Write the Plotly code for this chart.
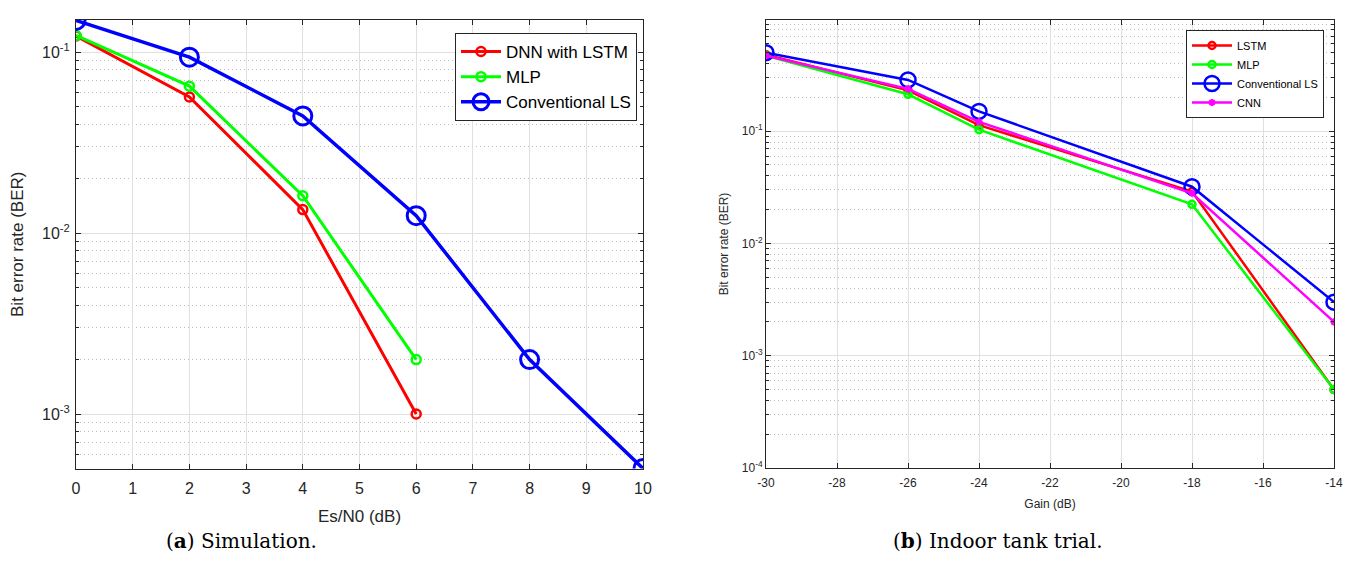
import plotly.graph_objects as go

# (a) Simulation: BER versus Es/N0
snr_db = [0, 2, 4, 6, 8, 10]
ber_dnn_lstm = [0.123, 0.0566, 0.0135, 0.001]
ber_mlp_sim = [0.124, 0.065, 0.0161, 0.002]
ber_ls_sim = [0.150, 0.094, 0.0445, 0.0125, 0.002, 0.0005]

# (b) Indoor tank trial: BER versus receiver gain
gain_db = [-30, -26, -24, -18, -14]
ber_lstm = [0.48, 0.231, 0.113, 0.029, 0.0005]
ber_mlp = [0.47, 0.213, 0.103, 0.0223, 0.0005]
ber_ls = [0.50, 0.286, 0.150, 0.032, 0.003]
ber_cnn = [0.47, 0.238, 0.121, 0.028, 0.002]

gain_ticks = list(range(-30, -13, 2))
snr_ticks = list(range(0, 11))

W, H = 1355, 575
FONT = "Liberation Sans, Arial, sans-serif"
AX = "#262626"
RED, GREEN, BLUE, MAGENTA = "#ff0000", "#00ff00", "#0000ff", "#ff00ff"


def px_x(p):
    return p / W


def px_y(p):
    return 1 - p / H


fig = go.Figure()

# ---- left panel ----
fig.add_trace(go.Scatter(
    x=snr_db[:len(ber_dnn_lstm)], y=ber_dnn_lstm, name="DNN with LSTM",
    mode="lines+markers", line=dict(color=RED, width=3),
    marker=dict(symbol="circle-open", size=9, line=dict(width=2.5, color=RED)),
    xaxis="x", yaxis="y", legend="legend"))
fig.add_trace(go.Scatter(
    x=snr_db[:len(ber_mlp_sim)], y=ber_mlp_sim, name="MLP",
    mode="lines+markers", line=dict(color=GREEN, width=3),
    marker=dict(symbol="circle-open", size=9, line=dict(width=2.5, color=GREEN)),
    xaxis="x", yaxis="y", legend="legend"))
fig.add_trace(go.Scatter(
    x=snr_db, y=ber_ls_sim, name="Conventional LS",
    mode="lines+markers", line=dict(color=BLUE, width=3.5),
    marker=dict(symbol="circle-open", size=18, line=dict(width=3, color=BLUE)),
    xaxis="x", yaxis="y", legend="legend"))

# ---- right panel ----
fig.add_trace(go.Scatter(
    x=gain_db, y=ber_lstm, name="LSTM",
    mode="lines+markers", line=dict(color=RED, width=2.5),
    marker=dict(symbol="circle-open", size=7, line=dict(width=2.5, color=RED)),
    xaxis="x2", yaxis="y2", legend="legend2"))
fig.add_trace(go.Scatter(
    x=gain_db, y=ber_mlp, name="MLP",
    mode="lines+markers", line=dict(color=GREEN, width=2.5),
    marker=dict(symbol="circle-open", size=7, line=dict(width=2.5, color=GREEN)),
    xaxis="x2", yaxis="y2", legend="legend2"))
fig.add_trace(go.Scatter(
    x=gain_db, y=ber_ls, name="Conventional LS",
    mode="lines+markers", line=dict(color=BLUE, width=2.5),
    marker=dict(symbol="circle-open", size=15, line=dict(width=2.5, color=BLUE)),
    xaxis="x2", yaxis="y2", legend="legend2"))
fig.add_trace(go.Scatter(
    x=gain_db, y=ber_cnn, name="CNN",
    mode="lines+markers", line=dict(color=MAGENTA, width=2.5),
    marker=dict(symbol="asterisk-open", size=6, line=dict(width=2, color=MAGENTA)),
    xaxis="x2", yaxis="y2", legend="legend2"))


def minor_vals(lo, hi):
    vals = []
    for d in range(lo, hi + 1):
        for k in range(2, 10):
            vals.append(k * 10 ** d)
    return vals


def sup(d):
    return f"10<sup>{d}</sup>"


common_axis = dict(
    showline=True, linecolor=AX, linewidth=1, mirror="ticks",
    ticks="inside", ticklen=5, tickcolor=AX, tickwidth=1,
    showgrid=True, gridcolor="#e0e0e0", gridwidth=1, zeroline=False,
    automargin=False,
)
minor_grid = dict(tickmode="array", tickvals=minor_vals(-4, -1),
                  ticks="inside", ticklen=3, tickcolor=AX,
                  showgrid=True, gridcolor="#bdbdbd", griddash="1px,3px", gridwidth=1)

fig.update_layout(
    width=W, height=H,
    margin=dict(l=0, r=0, t=0, b=0),
    paper_bgcolor="white", plot_bgcolor="white",
    font=dict(family=FONT, color=AX),
    xaxis=dict(
        common_axis, domain=[px_x(76), px_x(643)], range=[0, 10],
        tickmode="array", tickvals=snr_ticks, ticktext=[str(v) for v in snr_ticks],
        tickfont=dict(size=16, color=AX), ticklabelstandoff=5,
        title=dict(text="Es/N0 (dB)", font=dict(size=17, color=AX), standoff=14),
        anchor="y"),
    yaxis=dict(
        common_axis, domain=[px_y(468.5), px_y(20)], type="log",
        range=[-3.301, -0.8215],
        tickmode="array", tickvals=[1e-3, 1e-2, 1e-1],
        ticktext=[sup(-3), sup(-2), sup(-1)],
        tickfont=dict(size=16, color=AX), ticklabelstandoff=2,
        minor=minor_grid,
        title=dict(text="Bit error rate (BER)", font=dict(size=17, color=AX), standoff=14),
        anchor="x"),
    xaxis2=dict(
        common_axis, domain=[px_x(766), px_x(1334)], range=[-30, -14],
        tickmode="array", tickvals=gain_ticks, ticktext=[str(v) for v in gain_ticks],
        tickfont=dict(size=12, color=AX), ticklabelstandoff=4,
        title=dict(text="Gain (dB)", font=dict(size=12, color=AX), standoff=10),
        anchor="y2"),
    yaxis2=dict(
        common_axis, domain=[px_y(468), px_y(20)], type="log",
        range=[-4, -0.01],
        tickmode="array", tickvals=[1e-4, 1e-3, 1e-2, 1e-1],
        ticktext=[sup(-4), sup(-3), sup(-2), sup(-1)],
        tickfont=dict(size=12, color=AX),
        minor=minor_grid,
        title=dict(text="Bit error rate (BER)", font=dict(size=12, color=AX), standoff=10),
        anchor="x2"),
    legend=dict(
        x=px_x(637), y=px_y(33), xanchor="right", yanchor="top",
        bgcolor="white", bordercolor=AX, borderwidth=1,
        font=dict(size=17, family=FONT, color="black"),
        tracegroupgap=0, itemwidth=40),
    legend2=dict(
        x=px_x(1324), y=px_y(30), xanchor="right", yanchor="top",
        bgcolor="white", bordercolor=AX, borderwidth=1,
        font=dict(size=11, family=FONT, color="black"),
        tracegroupgap=0, itemwidth=40),
    showlegend=True,
)

CAP_FONT = dict(family="DejaVu Serif, Liberation Serif, serif", size=20, color="black")
fig.add_annotation(text="(<b>a</b>) Simulation.", x=px_x(241), y=px_y(541),
                   xref="paper", yref="paper", showarrow=False,
                   xanchor="center", yanchor="middle", font=CAP_FONT)
fig.add_annotation(text="(<b>b</b>) Indoor tank trial.", x=px_x(998), y=px_y(541),
                   xref="paper", yref="paper", showarrow=False,
                   xanchor="center", yanchor="middle", font=CAP_FONT)

fig.write_html("out.html")
